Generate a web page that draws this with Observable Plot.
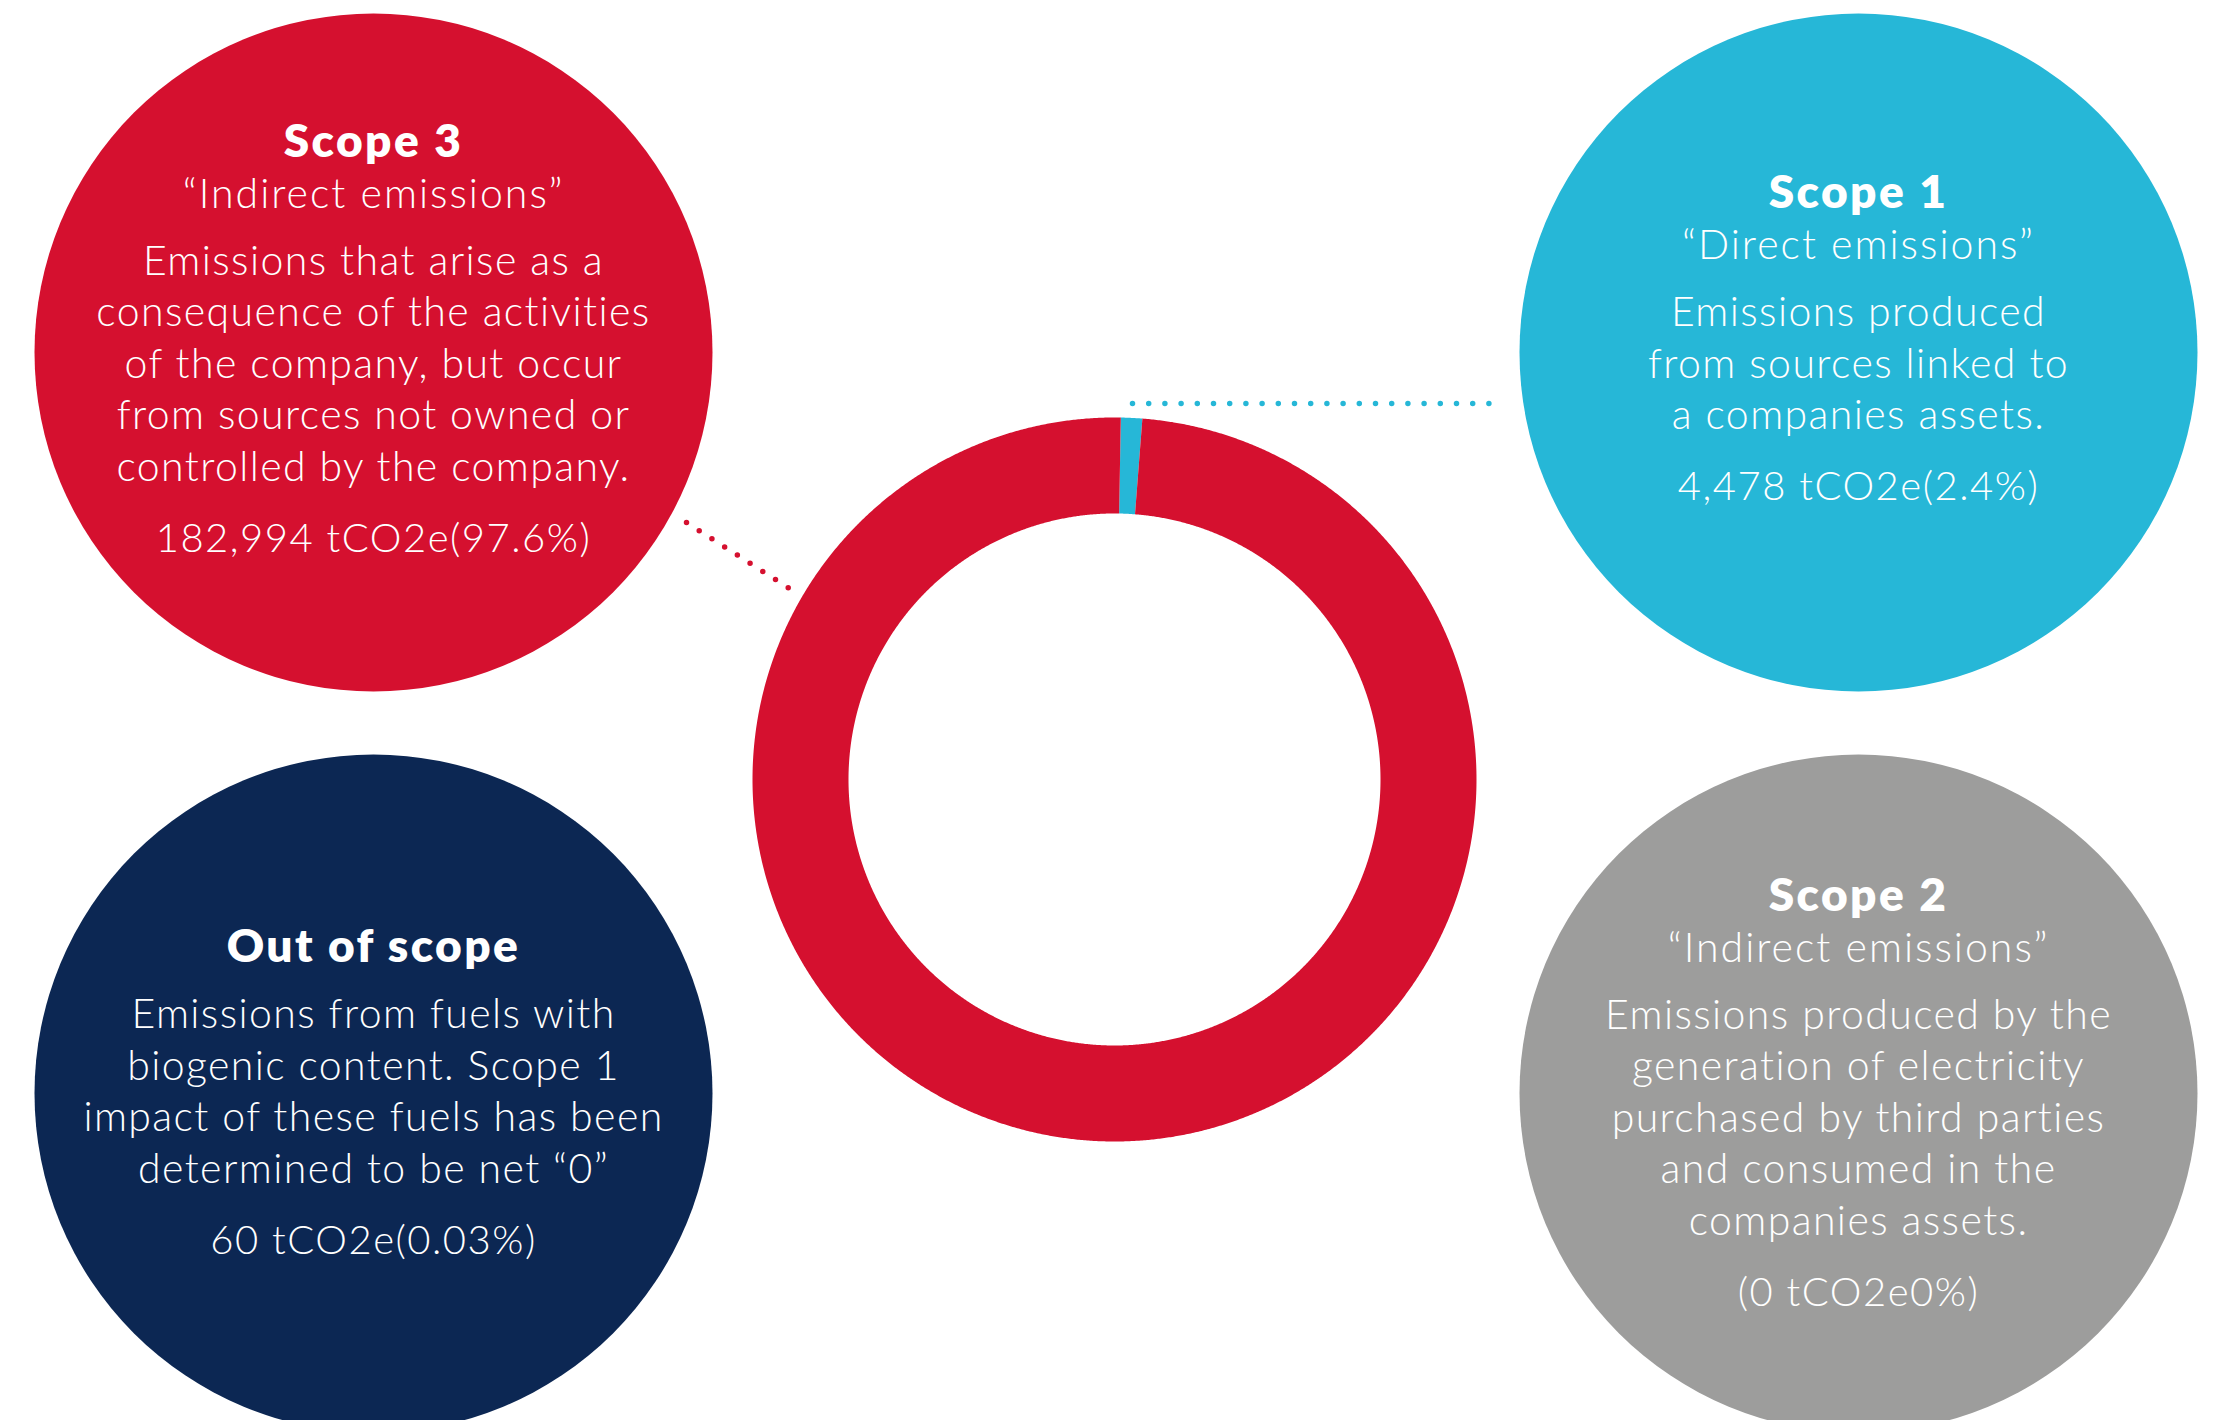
<!DOCTYPE html>
<html>
<head>
<meta charset="utf-8">
<script src="https://cdn.jsdelivr.net/npm/d3@7"></script>
<script src="https://cdn.jsdelivr.net/npm/@observablehq/plot@0.6"></script>
<style>
  html, body { margin: 0; padding: 0; background: #fff; overflow: hidden; }
  #chart svg { display: block; overflow: hidden; }
</style>
</head>
<body>
<div id="chart"></div>
<script>
// ---------------- DATA ----------------
const categories = ["Scope 3", "Scope 1", "Out of scope", "Scope 2"];
const titles = ["Scope 3", "Scope 1", "Out of scope", "Scope 2"];
const subtitles = ["“Indirect emissions”", "“Direct emissions”", "", "“Indirect emissions”"];
const descriptions = [
  ["Emissions that arise as a", "consequence of the activities", "of the company, but occur", "from sources not owned or", "controlled by the company."],
  ["Emissions produced", "from sources linked to", "a companies assets."],
  ["Emissions from fuels with", "biogenic content. Scope 1", "impact of these fuels has been", "determined to be net “0”"],
  ["Emissions produced by the", "generation of electricity", "purchased by third parties", "and consumed in the", "companies assets."]
];
const valueLabels = ["182,994 tCO2e(97.6%)", "4,478 tCO2e(2.4%)", "60 tCO2e(0.03%)", "(0 tCO2e0%)"];
const colors = ["#d5102f", "#26b7d7", "#0c2753", "#9d9d9c"];
// ring slices as drawn (share of ring, %), clockwise near 12 o'clock
const ringCategories = ["Scope 1", "Scope 3"];
const ringShares = [0.95, 99.05];

// ---------------- LAYOUT (pixels) ----------------
const W = 2223, H = 1420;
const layout = {
  "Scope 3":      {cx: 373,  cy: 352,  shift: -15},
  "Scope 1":      {cx: 1858, cy: 352,  shift: -15},
  "Out of scope": {cx: 373,  cy: 1093, shift: -2},
  "Scope 2":      {cx: 1858, cy: 1093, shift: -2}
};
const bubbleR = 339;
const ring = {cx: 1114, cy: 779, outer: 362, inner: 266, start: 1 * Math.PI / 180};
const leaders = [
  {category: "Scope 3", x1: 686, y1: 522, x2: 789, y2: 588, dash: "0 15.1"},
  {category: "Scope 1", x1: 1132, y1: 403, x2: 1499, y2: 403, dash: "0 16.2"}
];
const gap = {cap: 33, titleSub: 51, subBody: 67, titleBody: 66, line: 51.5, bodyValue: 71};

// text rows built from the data arrays
const rows = [];
categories.forEach((c, i) => {
  const L = layout[c];
  const hasSub = subtitles[i] !== "";
  const n = descriptions[i].length;
  const total = (hasSub ? gap.titleSub + gap.subBody : gap.titleBody) + gap.line * (n - 1) + gap.bodyValue;
  let y = L.cy + L.shift - (total - gap.cap) / 2;
  rows.push({kind: "title", text: titles[i], x: L.cx, y});
  if (hasSub) { y += gap.titleSub; rows.push({kind: "sub", text: subtitles[i], x: L.cx, y}); y += gap.subBody; }
  else y += gap.titleBody;
  descriptions[i].forEach((t, k) => { rows.push({kind: "body", text: t, x: L.cx, y: y + k * gap.line}); });
  y += gap.line * (n - 1) + gap.bodyValue;
  rows.push({kind: "value", text: valueLabels[i], x: L.cx, y});
});

// ring polygons from the pie layout
const pie = d3.pie().sort(null).startAngle(ring.start).endAngle(ring.start + 2 * Math.PI)
  .value(d => d.value)(ringCategories.map((c, i) => ({category: c, value: ringShares[i]})));
const ringPts = [];
for (const s of pie) {
  const steps = Math.max(2, Math.ceil((s.endAngle - s.startAngle) / (Math.PI / 720)));
  for (let k = 0; k <= steps; k++) {
    const a = s.startAngle + (s.endAngle - s.startAngle) * k / steps;
    ringPts.push({category: s.data.category, x: ring.cx + ring.outer * Math.sin(a), y: ring.cy - ring.outer * Math.cos(a)});
  }
  for (let k = steps; k >= 0; k--) {
    const a = s.startAngle + (s.endAngle - s.startAngle) * k / steps;
    ringPts.push({category: s.data.category, x: ring.cx + ring.inner * Math.sin(a), y: ring.cy - ring.inner * Math.cos(a)});
  }
}

const font = "Lato, 'Open Sans', sans-serif";
const textMark = (kind, size, weight) => Plot.text(rows.filter(d => d.kind === kind), {
  x: "x", y: "y", text: "text", fill: "white", fontSize: size, fontWeight: weight,
  fontFamily: font, lineAnchor: "bottom", textAnchor: "middle"
});
const leaderMark = (d) => Plot.link([d], {x1: "x1", y1: "y1", x2: "x2", y2: "y2", stroke: "category",
  strokeWidth: 5.5, strokeDasharray: d.dash, strokeLinecap: "round"});

const chart = Plot.plot({
  width: W, height: H,
  margin: 0,
  x: {domain: [0, W], range: [0, W], axis: null},
  y: {domain: [0, H], range: [0, H], axis: null},
  color: {domain: categories, range: colors},
  style: {background: "white", fontFamily: font},
  marks: [
    Plot.line(ringPts, {x: "x", y: "y", z: "category", fill: "category", stroke: "none", curve: "linear-closed"}),
    ...leaders.map(leaderMark),
    Plot.dot(categories, {x: c => layout[c].cx, y: c => layout[c].cy, r: bubbleR, fill: c => c, stroke: "none"}),
    textMark("title", 46, 800),
    textMark("sub", 41, 300),
    textMark("body", 41, 300),
    textMark("value", 40, 300)
  ]
});
// letter spacing to approach the wider original typeface
const spacing = {title: "2.4px", sub: "2px", body: "1.4px", value: "1.5px"};
const groups = d3.select(chart).selectAll("g[aria-label='text']").nodes();
["title", "sub", "body", "value"].forEach((k, i) => {
  if (groups[i]) groups[i].setAttribute("letter-spacing", spacing[k]);
});
document.getElementById("chart").appendChild(chart);
</script>
</body>
</html>
